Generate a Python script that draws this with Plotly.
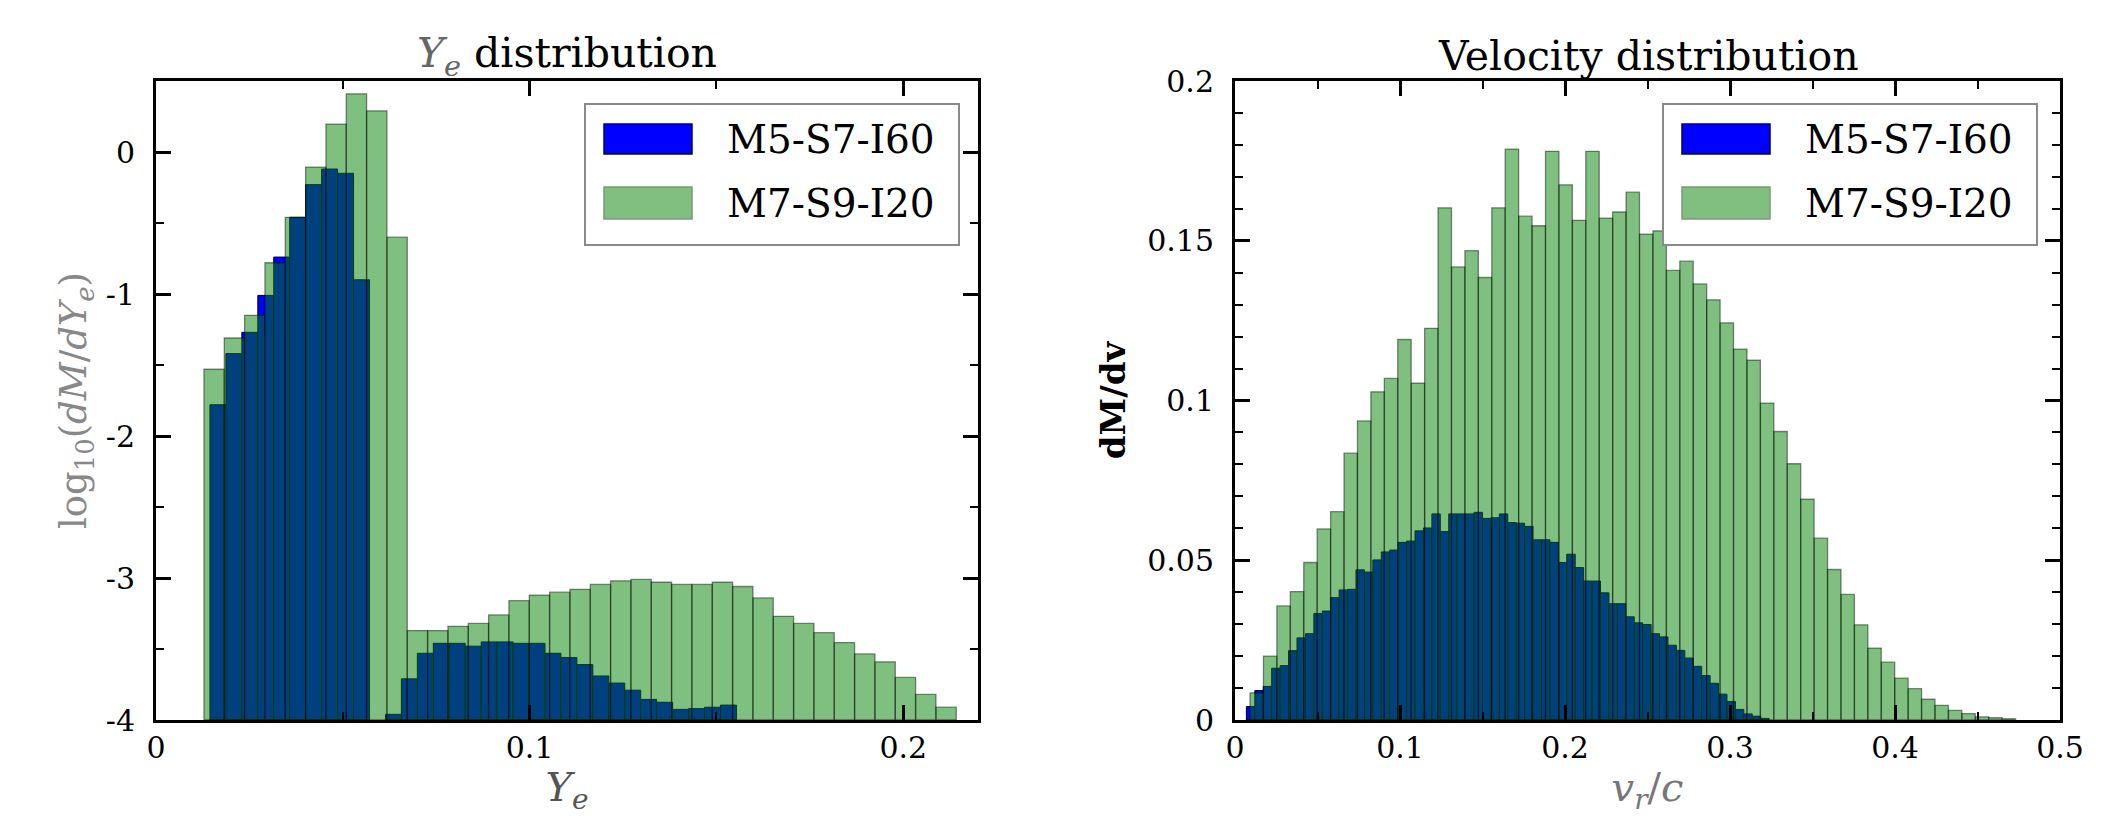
import plotly.graph_objects as go

# ---------------- data ----------------
# Left panel: Y_e distribution, log10(dM/dYe); bins: start + width (uniform histogram bins)
YE_BLUE_START = 0.01444
YE_BLUE_WIDTH = 0.00427
ye_blue = [-1.78, -1.42, -1.27, -1.01, -0.74, -0.46, -0.23, -0.12, -0.15, -0.90,
           None, -3.96, -3.71, -3.53, -3.46, -3.46, -3.48, -3.45, -3.45, -3.46,
           -3.46, -3.53, -3.56, -3.61, -3.69, -3.74, -3.79, -3.855, -3.875, -3.925,
           -3.92, -3.91, -3.895]

YE_GREEN_START = 0.01283
YE_GREEN_WIDTH = 0.005442
ye_green = [-1.53, -1.31, -1.15, -0.78, -0.46, -0.106, 0.197, 0.41, 0.29, -0.60,
            -3.37, -3.37, -3.34, -3.32, -3.26, -3.16, -3.12, -3.10, -3.08, -3.045,
            -3.02, -3.01, -3.03, -3.045, -3.045, -3.03, -3.06, -3.14, -3.27, -3.32,
            -3.385, -3.455, -3.535, -3.59, -3.70, -3.82, -3.91]

# Right panel: velocity distribution dM/dv
VEL_BLUE_START = 0.0069
VEL_BLUE_WIDTH = 0.00511
vel_blue = [0.0042, 0.0092, 0.0105, 0.0162, 0.0170, 0.0217, 0.0257, 0.0270, 0.0333, 0.0341,
            0.0383, 0.0407, 0.0409, 0.0470, 0.0463, 0.0501, 0.0526, 0.0532, 0.0556, 0.0560,
            0.0592, 0.0601, 0.0645, 0.0590, 0.0645, 0.0645, 0.0645, 0.0650, 0.0631, 0.0633,
            0.0645, 0.0618, 0.0616, 0.0606, 0.0564, 0.0564, 0.0556, 0.0493, 0.0519, 0.0477,
            0.0435, 0.0435, 0.0398, 0.0364, 0.0364, 0.0323, 0.0304, 0.0299, 0.0270, 0.0260,
            0.0234, 0.0218, 0.0194, 0.0168, 0.0139, 0.0115, 0.0081, 0.0058, 0.0033, 0.0019,
            0.0012, 0.0005]

VEL_GREEN_START = 0.0091
VEL_GREEN_WIDTH = 0.00814
vel_green = [0.0085, 0.0200, 0.0357, 0.0402, 0.0493, 0.0598, 0.0652, 0.0835, 0.0936, 0.1027,
             0.1069, 0.1191, 0.1054, 0.1226, 0.1603, 0.1418, 0.1469, 0.1385, 0.1603, 0.1787,
             0.1577, 0.1547, 0.1780, 0.1675, 0.1564, 0.1780, 0.1571, 0.1590, 0.1652, 0.1521,
             0.1531, 0.1407, 0.1436, 0.1365, 0.1315, 0.1243, 0.1161, 0.1126, 0.0992, 0.0903,
             0.0802, 0.0691, 0.0569, 0.0471, 0.0393, 0.0298, 0.0225, 0.0181, 0.0131, 0.0098,
             0.0065, 0.0046, 0.0030, 0.0020, 0.0010, 0.0007, 0.0004]

SERIES = ["M5-S7-I60", "M7-S9-I20"]

ye_ticks = [-4, -3, -2, -1, 0]
ye_ticktext = ["-4", "-3", "-2", "-1", "0"]
yex_ticks = [0, 0.1, 0.2]
yex_ticktext = ["0", "0.1", "0.2"]
vel_yticks = [0, 0.05, 0.1, 0.15, 0.2]
vel_yticktext = ["0", "0.05", "0.1", "0.15", "0.2"]
vel_xticks = [0, 0.1, 0.2, 0.3, 0.4, 0.5]
vel_xticktext = ["0", "0.1", "0.2", "0.3", "0.4", "0.5"]

LOG_BASE = -4.0

# ---------------- styling ----------------
# page has an 8px body margin, so keep the figure inside the window
OFF = 8
W, H = 2107 - 2 * OFF, 824 - 2 * OFF
FONT = "DejaVu Serif"
BLUE = "#0000ff"
GREEN = "rgba(0,128,0,0.5)"
GREEN_EDGE = "rgba(0,0,0,0.45)"


def px(xs):
    """screen x pixel -> paper coordinate"""
    return (xs - OFF) / W


def py(ys):
    """screen y pixel -> paper coordinate"""
    return 1 - (ys - OFF) / H


def centers(start, width, n):
    return [start + (i + 0.5) * width for i in range(n)]


fig = go.Figure()

# Left panel
fig.add_trace(go.Bar(
    x=centers(YE_BLUE_START, YE_BLUE_WIDTH, len(ye_blue)),
    y=[None if v is None else v - LOG_BASE for v in ye_blue],
    base=LOG_BASE, width=YE_BLUE_WIDTH, name=SERIES[0],
    marker=dict(color=BLUE, line=dict(color="black", width=1)),
    xaxis="x", yaxis="y", showlegend=False))
fig.add_trace(go.Bar(
    x=centers(YE_GREEN_START, YE_GREEN_WIDTH, len(ye_green)),
    y=[v - LOG_BASE for v in ye_green],
    base=LOG_BASE, width=YE_GREEN_WIDTH, name=SERIES[1],
    marker=dict(color=GREEN, line=dict(color=GREEN_EDGE, width=1.3)),
    xaxis="x", yaxis="y", showlegend=False))

# Right panel
fig.add_trace(go.Bar(
    x=centers(VEL_BLUE_START, VEL_BLUE_WIDTH, len(vel_blue)),
    y=vel_blue, width=VEL_BLUE_WIDTH, name=SERIES[0],
    marker=dict(color=BLUE, line=dict(color="black", width=1)),
    xaxis="x2", yaxis="y2", showlegend=False))
fig.add_trace(go.Bar(
    x=centers(VEL_GREEN_START, VEL_GREEN_WIDTH, len(vel_green)),
    y=vel_green, width=VEL_GREEN_WIDTH, name=SERIES[1],
    marker=dict(color=GREEN, line=dict(color=GREEN_EDGE, width=1.3)),
    xaxis="x2", yaxis="y2", showlegend=False))

common = dict(
    showline=True, linecolor="black", linewidth=3, mirror="ticks",
    ticks="inside", ticklen=15, tickwidth=3, tickcolor="black",
    showgrid=False, zeroline=False, automargin=False,
    tickfont=dict(family=FONT, size=30, color="black"),
)
minor_common = dict(ticks="inside", ticklen=8, tickwidth=2, tickcolor="black", showgrid=False)

ydom = [py(720), py(81)]

fig.update_layout(
    width=W, height=H, autosize=False,
    margin=dict(l=0, r=0, t=0, b=0, pad=0),
    paper_bgcolor="white", plot_bgcolor="white",
    barmode="overlay",
    font=dict(family=FONT, color="black"),
    xaxis=dict(domain=[px(156), px(978)], anchor="y", range=[0, 0.22],
               tickvals=yex_ticks, ticktext=yex_ticktext, ticklabelstandoff=-1,
               minor=dict(dtick=0.05, tick0=0, **minor_common),
               title=dict(text="<i>Y<sub>e</sub></i>", standoff=6,
                          font=dict(family=FONT, size=40, color="#555555")),
               **common),
    yaxis=dict(domain=ydom, anchor="x", range=[-4, 0.5],
               tickvals=ye_ticks, ticktext=ye_ticktext, ticklabelstandoff=12,
               minor=dict(dtick=0.5, tick0=0, **minor_common),
               title=dict(text="log<sub>10</sub>(<i>dM</i>/<i>dY<sub>e</sub></i>)", standoff=8,
                          font=dict(family=FONT, size=37, color="#888888")),
               **common),
    xaxis2=dict(domain=[px(1235), px(2060)], anchor="y2", range=[0, 0.5],
                tickvals=vel_xticks, ticktext=vel_xticktext, ticklabelstandoff=-1,
                minor=dict(dtick=0.05, tick0=0, **minor_common),
                title=dict(text="<i>v<sub>r</sub></i>/<i>c</i>", standoff=16,
                           font=dict(family=FONT, size=40, color="#777777")),
                **common),
    yaxis2=dict(domain=ydom, anchor="x2", range=[0, 0.2],
                tickvals=vel_yticks, ticktext=vel_yticktext, ticklabelstandoff=12,
                minor=dict(dtick=0.01, tick0=0, **minor_common),
                title=dict(text="<b>dM/dv</b>", standoff=12,
                           font=dict(family=FONT, size=34, color="black")),
                **common),
)

shapes = []
annotations = [
    dict(text="<span style='color:#666666'><i>Y<sub>e</sub></i></span> distribution",
         xref="paper", yref="paper", x=px(567), y=py(56), xanchor="center", yanchor="middle",
         showarrow=False, font=dict(family=FONT, size=41, color="black")),
    dict(text="Velocity distribution",
         xref="paper", yref="paper", x=px(1648), y=py(56), xanchor="center", yanchor="middle",
         showarrow=False, font=dict(family=FONT, size=41, color="black")),
]

# manual legends (one per panel), matching the reference's wide patches
for left in (585, 1663):
    shapes.append(dict(type="rect", xref="paper", yref="paper",
                       x0=px(left), x1=px(left + 374), y0=py(245), y1=py(104),
                       fillcolor="white", line=dict(color="#8a8a8a", width=2), layer="above"))
    shapes.append(dict(type="rect", xref="paper", yref="paper",
                       x0=px(left + 19), x1=px(left + 107), y0=py(154), y1=py(124),
                       fillcolor=BLUE, line=dict(color="#000066", width=1.5), layer="above"))
    shapes.append(dict(type="rect", xref="paper", yref="paper",
                       x0=px(left + 19), x1=px(left + 107), y0=py(219), y1=py(187),
                       fillcolor="#80bf80", line=dict(color="#7a9a7a", width=1.5), layer="above"))
    for name, yc in zip(SERIES, (139, 203)):
        annotations.append(dict(text=name, xref="paper", yref="paper",
                                x=px(left + 140), y=py(yc), xanchor="left", yanchor="middle",
                                showarrow=False, font=dict(family=FONT, size=39, color="black")))

fig.update_layout(shapes=shapes, annotations=annotations)

fig.write_html("out.html")
